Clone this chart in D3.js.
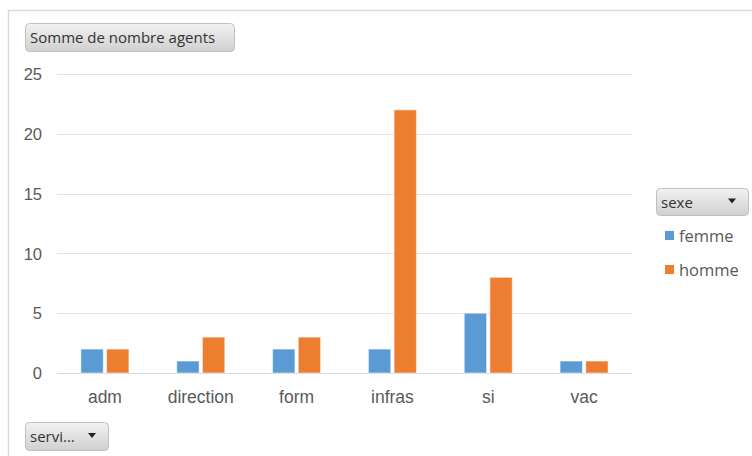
<!DOCTYPE html>
<html><head><meta charset="utf-8">
<script src="https://cdn.jsdelivr.net/npm/d3@7"></script>
<style>
html,body{margin:0;padding:0;background:#fff;}
svg{display:block;font-family:"Open Sans","Noto Sans",sans-serif;}
</style></head>
<body><svg id="c" width="752" height="456"></svg>
<script>
const categories = ["adm","direction","form","infras","si","vac"];
const seriesNames = ["femme","homme"];
const femme = [2,1,2,2,5,1];
const homme = [2,3,3,22,8,1];
const yTicks = [0,5,10,15,20,25];
const colors = ["#5B9BD5","#ED7D31"];

(function(){
const svg = d3.select("#c");
const defs = svg.append("defs");
const g1 = defs.append("linearGradient").attr("id","btn").attr("x1",0).attr("y1",0).attr("x2",0).attr("y2",1);
g1.append("stop").attr("offset","0%").attr("stop-color","#f2f2f2");
g1.append("stop").attr("offset","100%").attr("stop-color","#d0d0d0");

// outer chart border
svg.append("rect").attr("x",8.5).attr("y",10.5).attr("width",760).attr("height",460)
  .attr("fill","#fff").attr("stroke","#d9d9d9").attr("stroke-width",1.5);

const pL=57, pR=632, pT=74, pB=373;
const x = d3.scaleBand().domain(categories).range([pL,pR]);
const y = d3.scaleLinear().domain([0,25]).range([pB,pT]);
const x1 = d3.scaleBand().domain(seriesNames).range([0,48]).paddingInner(0.13);

// gridlines
svg.append("g").selectAll("line").data(yTicks).join("line")
  .attr("x1",pL).attr("x2",pR)
  .attr("y1",d=>Math.round(y(d))+0.5).attr("y2",d=>Math.round(y(d))+0.5)
  .attr("stroke",d=>d===0?"#d9d9d9":"#e3e3e3").attr("stroke-width",1);

// y axis labels
const yAxis = d3.axisLeft(y).tickValues(yTicks).tickSize(0).tickPadding(0);
const ya = svg.append("g").attr("transform",`translate(42,0)`).call(yAxis);
ya.select(".domain").remove();
ya.selectAll("text").attr("fill","#595959").attr("font-size","16.5px").attr("dy","0.35em");

// x axis labels
const xAxis = d3.axisBottom(x).tickSize(0).tickPadding(0);
const xa = svg.append("g").attr("transform",`translate(0,${pB+24})`).call(xAxis);
xa.select(".domain").remove();
xa.selectAll("text").attr("fill","#595959").attr("font-size","17.5px").attr("dy","0.35em");

// bars
const data = categories.map((c,i)=>({c, vals:[{s:"femme",v:femme[i]},{s:"homme",v:homme[i]}]}));
svg.append("g").selectAll("g").data(data).join("g")
  .attr("transform",d=>`translate(${x(d.c)+x.bandwidth()/2-24},0)`)
  .selectAll("rect").data(d=>d.vals).join("rect")
  .attr("x",d=>x1(d.s)).attr("width",x1.bandwidth())
  .attr("y",d=>y(d.v)).attr("height",d=>y(0)-y(d.v))
  .attr("fill",(d,i)=>colors[i]).attr("stroke","#fff").attr("stroke-opacity",0.5).attr("stroke-width",1);

// buttons
function button(xp,yp,w,h,label,arrow){
  const b = svg.append("g").attr("transform",`translate(${xp},${yp})`);
  b.append("rect").attr("x",0.5).attr("y",0.5).attr("width",w).attr("height",h).attr("rx",4)
    .attr("fill","url(#btn)").attr("stroke","#c0c0c0");
  b.append("text").attr("x",5).attr("y",h/2+1).attr("dy","0.35em").attr("font-size","15px")
    .attr("fill","#333").text(label);
  if(arrow){
    const ax=w-16, ay=h/2-1;
    b.append("path").attr("d",`M${ax-4},${ay-2}L${ax+4},${ay-2}L${ax},${ay+3}Z`).attr("fill","#222");
  }
}
button(25,23,209,28,"Somme de nombre agents",false);
button(656,188,92,27,"sexe",true);
button(25,422,83,28,"servi...",true);

// legend
const lg = svg.append("g").selectAll("g").data(seriesNames).join("g")
  .attr("transform",(d,i)=>`translate(665,${231+i*34})`);
lg.append("rect").attr("width",9).attr("height",9).attr("fill",(d,i)=>colors[i]);
lg.append("text").attr("x",14).attr("y",5).attr("dy","0.35em").attr("font-size","16.5px")
  .attr("fill","#595959").text(d=>d);
})();
</script></body></html>
